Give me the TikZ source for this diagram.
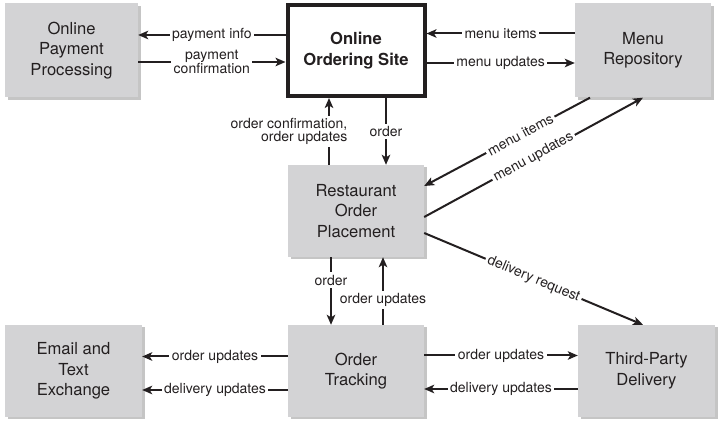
\documentclass[tikz,border=0pt]{standalone}
\usepackage{fontspec}
\setmainfont{TeX Gyre Heros}
\usepackage{xcolor}
\usetikzlibrary{positioning,arrows.meta,shadows}
\definecolor{boxgray}{RGB}{211,211,213}
\definecolor{ink}{RGB}{35,31,32}

\begin{document}
\begin{tikzpicture}[x=1pt, y=-1pt,
    proc/.style={fill=boxgray, minimum width=136pt, minimum height=92pt, align=center,
      text=ink, font=\fontsize{16.6}{20.5}\selectfont,
      drop shadow={shadow xshift=2.5pt, shadow yshift=-2.5pt, fill=black!45}},
    site/.style={draw=ink, line width=4pt, fill=white, minimum width=137pt, minimum height=91pt,
      align=center, text=ink, font=\bfseries\fontsize{16.6}{20.5}\selectfont},
    flow/.style={draw=ink, line width=2pt, -{Stealth[length=10pt, width=8.5pt, inset=2.5pt]}},
    lbl/.style={fill=white, inner sep=2.5pt, align=center, text=ink,
      font=\fontsize{14}{12.8}\selectfont}]
    \useasboundingbox (0,0) rectangle (723,427);

    % Top row
    \node[proc, minimum width=133pt, minimum height=94pt] (pay) at (71.5,50.5) {Online\\Payment\\Processing};
    \node[site] (site) at (356,50.5) {Online\\Ordering Site};
    \node[proc, minimum height=94pt] (menu) at (643,50.5) {Menu\\Repository};

    % Middle
    \node[proc] (rest) at (356,211) {Restaurant\\Order\\Placement};

    % Bottom row
    \node[proc, minimum width=137pt] (mail) at (73.5,371) {Email and\\Text\\Exchange};
    \node[proc] (track) at (356,371) {Order\\Tracking};
    \node[proc, minimum width=137pt] (third) at (646.5,371) {Third-Party\\Delivery};

    % Arrows - top row
    \draw[flow] ([yshift=15.5pt]site.west) -- node[lbl] {payment info} ([yshift=15.5pt]pay.east);
    \draw[flow] ([yshift=-11.5pt]pay.east) -- node[lbl] {payment\\confirmation} ([yshift=-11.5pt]site.west);
    \draw[flow] ([yshift=17pt]menu.west) -- node[lbl] {menu items} ([yshift=17pt]site.east);
    \draw[flow] ([yshift=-12.5pt]site.east) -- node[lbl] {menu updates} ([yshift=-12.5pt]menu.west);

    % Arrows - site and placement
    \draw[flow] ([xshift=30pt]site.south) -- node[lbl] {order} ([xshift=30pt]rest.north);
    \draw[flow] ([xshift=-27pt]rest.north) -- node[lbl, align=right, xshift=-40pt] {order confirmation,\\order updates} ([xshift=-27pt]site.south);

    % Arrows - diagonals
    \draw[flow] ([xshift=-53pt]menu.south) -- node[lbl, sloped, pos=0.42] {menu items} ([yshift=25pt]rest.east);
    \draw[flow] ([yshift=-6pt]rest.east) -- node[lbl, sloped] {menu updates} (menu.south);
    \draw[flow] ([yshift=-22pt]rest.east) -- node[lbl, sloped] {delivery request} ([xshift=-3.5pt]third.north);

    % Arrows - placement and tracking
    \draw[flow] ([xshift=-25pt]rest.south) -- node[lbl, pos=0.34] {order} ([xshift=-25pt]track.north);
    \draw[flow] ([xshift=27pt]track.north) -- node[lbl, pos=0.37] {order updates} ([xshift=27pt]rest.south);

    % Arrows - bottom row
    \draw[flow] ([yshift=14.5pt]track.west) -- node[lbl] {order updates} ([yshift=14.5pt]mail.east);
    \draw[flow] ([yshift=-19pt]track.west) -- node[lbl] {delivery updates} ([yshift=-19pt]mail.east);
    \draw[flow] ([yshift=15.5pt]track.east) -- node[lbl] {order updates} ([yshift=15.5pt]third.west);
    \draw[flow] ([yshift=-18pt]third.west) -- node[lbl] {delivery updates} ([yshift=-18pt]track.east);
\end{tikzpicture}
\end{document}
